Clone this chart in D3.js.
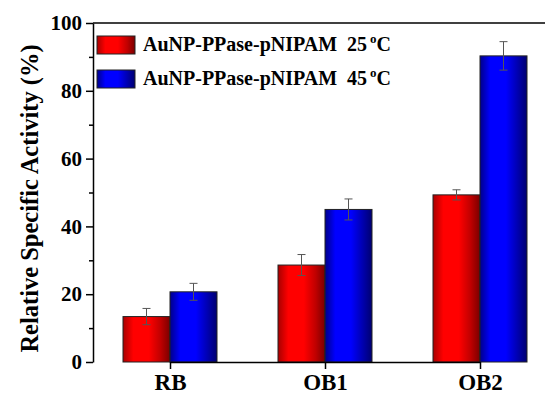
<!DOCTYPE html>
<html>
<head>
<meta charset="utf-8">
<script src="https://cdn.jsdelivr.net/npm/d3@7"></script>
<style>
  html, body { margin: 0; padding: 0; background: #fff; }
  svg { display: block; }
</style>
</head>
<body>
<svg id="chart" width="545" height="397" font-family="Liberation Serif" font-weight="bold"></svg>
<script>
const categories = ['RB', 'OB1', 'OB2']
const seriesNames = ['AuNP-PPase-pNIPAM\u00a0\u00a025', 'AuNP-PPase-pNIPAM\u00a0\u00a045']
const values25 = [13.4, 28.6, 49.3]
const errors25 = [2.4, 3.1, 1.5]
const values45 = [20.7, 45.0, 90.3]
const errors45 = [2.5, 3.1, 4.2]
const yTicks = [0, 20, 40, 60, 80, 100]
const yMinorTicks = [10, 30, 50, 70, 90]

const FONT = 'Liberation Serif'
const svg = d3.select('#chart')
const margin = { left: 93, top: 23, right: -2, bottom: 35 }
const width = 545 - margin.left - margin.right
const height = 397 - margin.top - margin.bottom

// Gradients for the shaded bars
const defs = svg.append('defs')
function addGradient(id, dark, mid, bright, darkRight) {
  const g = defs.append('linearGradient').attr('id', id)
    .attr('x1', '0%').attr('x2', '100%').attr('y1', '0%').attr('y2', '0%')
  g.append('stop').attr('offset', '0%').attr('stop-color', dark)
  g.append('stop').attr('offset', '22%').attr('stop-color', bright)
  g.append('stop').attr('offset', '55%').attr('stop-color', bright)
  g.append('stop').attr('offset', '80%').attr('stop-color', mid)
  g.append('stop').attr('offset', '100%').attr('stop-color', darkRight)
}
addGradient('gradRed', '#a80000', '#c00000', '#ff0000', '#7a0000')
addGradient('gradBlue', '#00008a', '#0000b0', '#0000ff', '#000070')

const g = svg.append('g').attr('transform', `translate(${margin.left},${margin.top})`)

const y = d3.scaleLinear().domain([0, 100]).range([height, 0])
// category centres are fixed-width slots
const x = d3.scalePoint().domain(categories).range([77, 387])
const barW = 47

const rows = categories.map((c, i) => ({
  cat: c,
  bars: [
    { key: 0, value: values25[i], err: errors25[i], fill: 'url(#gradRed)' },
    { key: 1, value: values45[i], err: errors45[i], fill: 'url(#gradBlue)' }
  ]
}))

// Bars
const groups = g.selectAll('g.group').data(rows).enter().append('g')
  .attr('class', 'group')
  .attr('transform', d => `translate(${x(d.cat)},0)`)

groups.selectAll('rect').data(d => d.bars).enter().append('rect')
  .attr('x', d => d.key === 0 ? -barW : 0)
  .attr('y', d => y(d.value))
  .attr('width', barW)
  .attr('height', d => height - y(d.value))
  .attr('fill', d => d.fill)
  .attr('stroke', '#222')
  .attr('stroke-width', 1)

// Error bars
const errG = groups.selectAll('g.err').data(d => d.bars).enter().append('g')
  .attr('class', 'err')
  .attr('transform', d => `translate(${d.key === 0 ? -barW / 2 : barW / 2},0)`)
  .attr('stroke', '#555')
  .attr('stroke-width', 1)
errG.append('line')
  .attr('x1', 0).attr('x2', 0)
  .attr('y1', d => y(d.value + d.err)).attr('y2', d => y(d.value - d.err))
errG.append('line')
  .attr('x1', -4).attr('x2', 4)
  .attr('y1', d => y(d.value + d.err)).attr('y2', d => y(d.value + d.err))
errG.append('line')
  .attr('x1', -4).attr('x2', 4)
  .attr('y1', d => y(d.value - d.err)).attr('y2', d => y(d.value - d.err))

function styleText(sel, size) {
  sel.attr('font-family', FONT).attr('font-weight', 'bold')
    .attr('font-size', size).attr('fill', '#000')
}

// Y axis
const yAxis = g.append('g')
  .call(d3.axisLeft(y).tickValues(yTicks).tickSize(7).tickPadding(4).tickSizeOuter(0))
  .attr('font-family', FONT).attr('font-size', 21)
styleText(yAxis.selectAll('text'), 21)
yAxis.select('.domain').attr('stroke', '#000').attr('stroke-width', 1.5)
yAxis.selectAll('.tick line').attr('stroke', '#000').attr('stroke-width', 1.5)

g.append('g')
  .call(d3.axisLeft(y).tickValues(yMinorTicks).tickSize(4).tickFormat(''))
  .call(s => s.select('.domain').remove())
  .selectAll('.tick line').attr('stroke', '#000').attr('stroke-width', 1.5)

// X axis
const xAxis = g.append('g').attr('transform', `translate(0,${height})`)
  .call(d3.axisBottom(x).tickSize(7).tickPadding(5).tickSizeOuter(0))
  .attr('font-family', FONT).attr('font-size', 23)
xAxis.select('.domain').attr('stroke', '#000').attr('stroke-width', 1.5)
xAxis.selectAll('.tick line').attr('stroke', '#000').attr('stroke-width', 1.5)
styleText(xAxis.selectAll('text'), 23)

// Top frame line
g.append('line')
  .attr('x1', 0).attr('x2', width).attr('y1', 0).attr('y2', 0)
  .attr('stroke', '#000').attr('stroke-width', 1.5)

// Y axis title
svg.append('text')
  .attr('transform', `translate(38,${margin.top + height / 2 + 6}) rotate(-90)`)
  .attr('text-anchor', 'middle')
  .call(styleText, 24.5)
  .text('Relative Specific Activity (%)')

// Legend
const legend = g.append('g').attr('transform', 'translate(4,13)')
const legendItems = legend.selectAll('g').data(seriesNames).enter().append('g')
  .attr('transform', (d, i) => `translate(0,${i * 34})`)
legendItems.append('rect')
  .attr('width', 38).attr('height', 18)
  .attr('fill', (d, i) => i === 0 ? 'url(#gradRed)' : 'url(#gradBlue)')
  .attr('stroke', '#222')
const lt = legendItems.append('text')
  .attr('x', 46).attr('y', 15)
  .call(styleText, 20)
lt.append('tspan').text(d => d)
lt.append('tspan').attr('dx', 3).attr('dy', -8).attr('font-size', 13).text('o')
lt.append('tspan').attr('dy', 8).text('C')
</script>
</body>
</html>
